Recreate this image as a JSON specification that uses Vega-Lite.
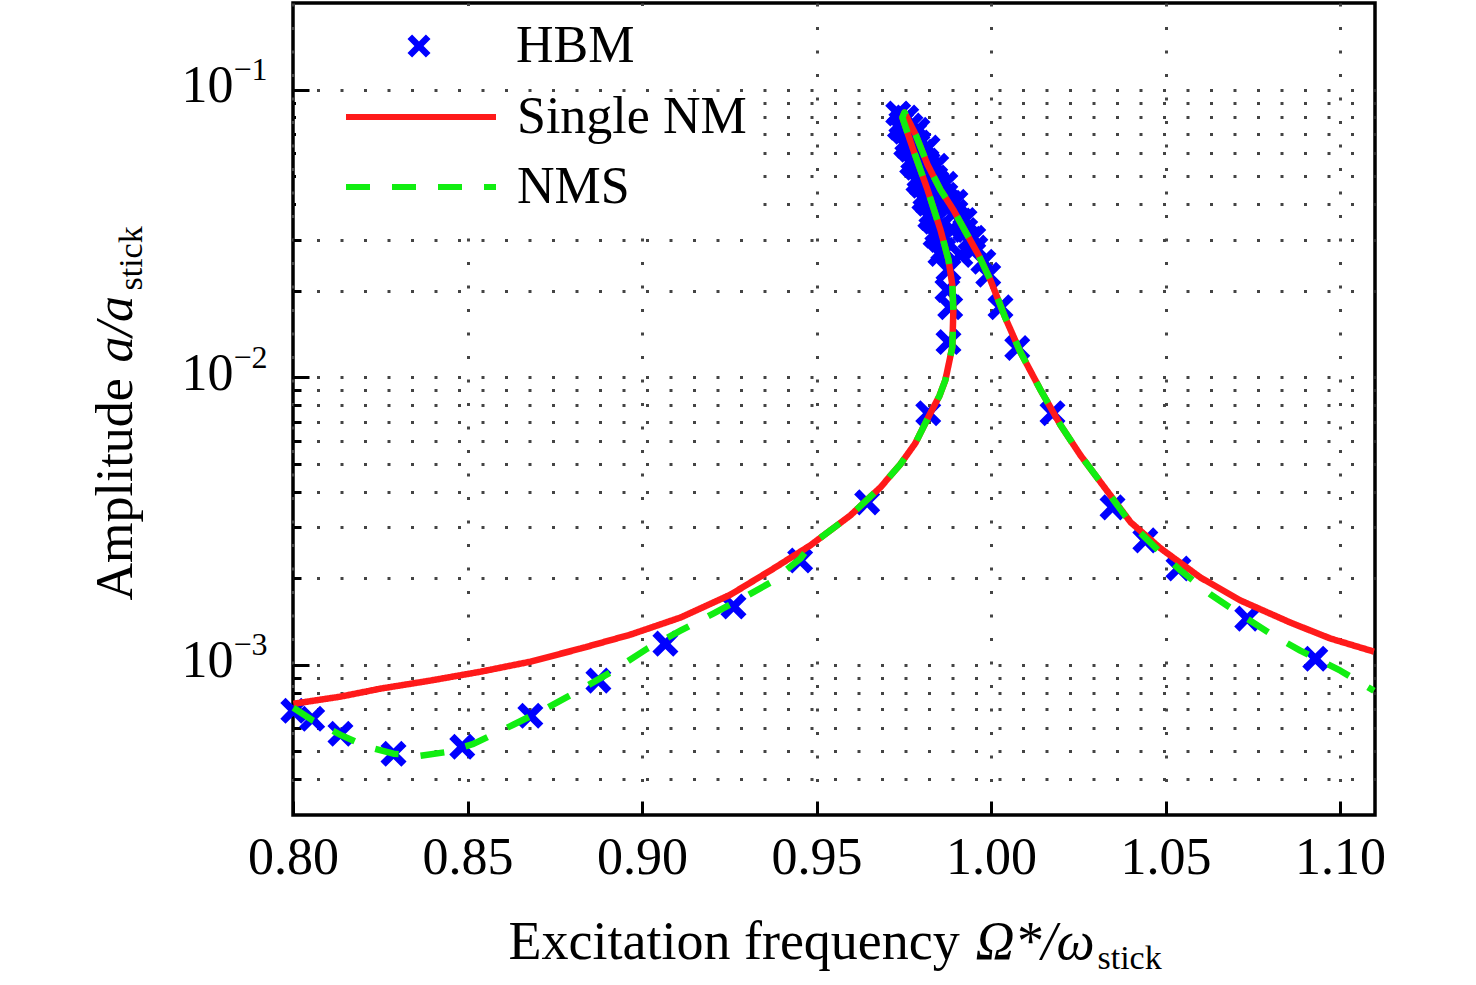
{
  "$schema": "https://vega.github.io/schema/vega-lite/v6.json",
  "width": 1082,
  "height": 812,
  "autosize": {"type": "none"},
  "padding": {"left": 293, "top": 3, "right": 101, "bottom": 170},
  "background": "white",
  "config": {
    "view": {"stroke": "black", "strokeWidth": 3.5},
    "font": "Liberation Serif",
    "axis": {
      "labelColor": "black", "titleColor": "black", "tickColor": "black",
      "labelFont": "Liberation Serif", "titleFont": "Liberation Serif",
      "titleFontWeight": "normal"
    }
  },
  "datasets": {
    "hbm": [
      {"s": "HBM", "f": 0.8001, "a": 0.000691},
      {"s": "HBM", "f": 0.8055, "a": 0.000648},
      {"s": "HBM", "f": 0.8136, "a": 0.000575},
      {"s": "HBM", "f": 0.8288, "a": 0.000490},
      {"s": "HBM", "f": 0.8485, "a": 0.000518},
      {"s": "HBM", "f": 0.8680, "a": 0.000664},
      {"s": "HBM", "f": 0.8875, "a": 0.000880},
      {"s": "HBM", "f": 0.9067, "a": 0.001183},
      {"s": "HBM", "f": 0.9262, "a": 0.001593},
      {"s": "HBM", "f": 0.9453, "a": 0.002304},
      {"s": "HBM", "f": 0.9645, "a": 0.003668},
      {"s": "HBM", "f": 0.9820, "a": 0.00749},
      {"s": "HBM", "f": 0.9878, "a": 0.01324},
      {"s": "HBM", "f": 0.9883, "a": 0.0175},
      {"s": "HBM", "f": 0.9875, "a": 0.0201},
      {"s": "HBM", "f": 0.9878, "a": 0.0236},
      {"s": "HBM", "f": 0.9863, "a": 0.0277},
      {"s": "HBM", "f": 0.9855, "a": 0.0300},
      {"s": "HBM", "f": 0.9846, "a": 0.0323},
      {"s": "HBM", "f": 0.9838, "a": 0.0347},
      {"s": "HBM", "f": 0.9829, "a": 0.0373},
      {"s": "HBM", "f": 0.9820, "a": 0.0401},
      {"s": "HBM", "f": 0.9812, "a": 0.0431},
      {"s": "HBM", "f": 0.9803, "a": 0.0463},
      {"s": "HBM", "f": 0.9795, "a": 0.0498},
      {"s": "HBM", "f": 0.9786, "a": 0.0535},
      {"s": "HBM", "f": 0.9777, "a": 0.0575},
      {"s": "HBM", "f": 0.9769, "a": 0.0618},
      {"s": "HBM", "f": 0.9760, "a": 0.0665},
      {"s": "HBM", "f": 0.9752, "a": 0.0714},
      {"s": "HBM", "f": 0.9743, "a": 0.0767},
      {"s": "HBM", "f": 0.9734, "a": 0.0825},
      {"s": "HBM", "f": 0.9739, "a": 0.0737},
      {"s": "HBM", "f": 0.9757, "a": 0.0638},
      {"s": "HBM", "f": 0.9774, "a": 0.0552},
      {"s": "HBM", "f": 0.9792, "a": 0.0478},
      {"s": "HBM", "f": 0.9809, "a": 0.0414},
      {"s": "HBM", "f": 0.9826, "a": 0.0358},
      {"s": "HBM", "f": 0.9841, "a": 0.0310},
      {"s": "HBM", "f": 0.9855, "a": 0.0268},
      {"s": "HBM", "f": 0.9777, "a": 0.0670},
      {"s": "HBM", "f": 0.9815, "a": 0.0526},
      {"s": "HBM", "f": 0.9852, "a": 0.0414},
      {"s": "HBM", "f": 0.9889, "a": 0.0325},
      {"s": "HBM", "f": 0.9757, "a": 0.0799},
      {"s": "HBM", "f": 0.9769, "a": 0.0749},
      {"s": "HBM", "f": 0.9780, "a": 0.0703},
      {"s": "HBM", "f": 0.9792, "a": 0.0654},
      {"s": "HBM", "f": 0.9803, "a": 0.0608},
      {"s": "HBM", "f": 0.9815, "a": 0.0566},
      {"s": "HBM", "f": 0.9826, "a": 0.0526},
      {"s": "HBM", "f": 0.9840, "a": 0.0494},
      {"s": "HBM", "f": 0.9855, "a": 0.0459},
      {"s": "HBM", "f": 0.9869, "a": 0.0431},
      {"s": "HBM", "f": 0.9883, "a": 0.0404},
      {"s": "HBM", "f": 0.9898, "a": 0.0376},
      {"s": "HBM", "f": 0.9912, "a": 0.0350},
      {"s": "HBM", "f": 0.9926, "a": 0.0325},
      {"s": "HBM", "f": 0.9941, "a": 0.0303},
      {"s": "HBM", "f": 0.9955, "a": 0.0282},
      {"s": "HBM", "f": 0.9789, "a": 0.0725},
      {"s": "HBM", "f": 0.9818, "a": 0.0628},
      {"s": "HBM", "f": 0.9843, "a": 0.0543},
      {"s": "HBM", "f": 0.9869, "a": 0.0470},
      {"s": "HBM", "f": 0.9898, "a": 0.0407},
      {"s": "HBM", "f": 0.9924, "a": 0.0352},
      {"s": "HBM", "f": 0.9949, "a": 0.0305},
      {"s": "HBM", "f": 0.9912, "a": 0.0266},
      {"s": "HBM", "f": 0.9978, "a": 0.0252},
      {"s": "HBM", "f": 0.9992, "a": 0.0227},
      {"s": "HBM", "f": 1.0027, "a": 0.0175},
      {"s": "HBM", "f": 1.0075, "a": 0.01262},
      {"s": "HBM", "f": 1.0176, "a": 0.00749},
      {"s": "HBM", "f": 1.0348, "a": 0.003524},
      {"s": "HBM", "f": 1.0442, "a": 0.002705},
      {"s": "HBM", "f": 1.0537, "a": 0.002160},
      {"s": "HBM", "f": 1.0734, "a": 0.001446},
      {"s": "HBM", "f": 1.0929, "a": 0.001049}
    ],
    "single": [
      {"s": "Single NM", "o": 1, "f": 0.8001, "a": 0.000731},
      {"s": "Single NM", "o": 2, "f": 0.8136, "a": 0.000774},
      {"s": "Single NM", "o": 3, "f": 0.8250, "a": 0.000825},
      {"s": "Single NM", "o": 4, "f": 0.8393, "a": 0.000880},
      {"s": "Single NM", "o": 5, "f": 0.8537, "a": 0.000945},
      {"s": "Single NM", "o": 6, "f": 0.8680, "a": 0.001024},
      {"s": "Single NM", "o": 7, "f": 0.8823, "a": 0.001137},
      {"s": "Single NM", "o": 8, "f": 0.8967, "a": 0.001272},
      {"s": "Single NM", "o": 9, "f": 0.9110, "a": 0.001458},
      {"s": "Single NM", "o": 10, "f": 0.9254, "a": 0.001753},
      {"s": "Single NM", "o": 11, "f": 0.9368, "a": 0.002126},
      {"s": "Single NM", "o": 12, "f": 0.9482, "a": 0.002598},
      {"s": "Single NM", "o": 13, "f": 0.9597, "a": 0.003305},
      {"s": "Single NM", "o": 14, "f": 0.9683, "a": 0.004136},
      {"s": "Single NM", "o": 15, "f": 0.9740, "a": 0.004975},
      {"s": "Single NM", "o": 16, "f": 0.9783, "a": 0.00589},
      {"s": "Single NM", "o": 17, "f": 0.9826, "a": 0.00749},
      {"s": "Single NM", "o": 18, "f": 0.9852, "a": 0.00860},
      {"s": "Single NM", "o": 19, "f": 0.9869, "a": 0.00976},
      {"s": "Single NM", "o": 20, "f": 0.9889, "a": 0.01272},
      {"s": "Single NM", "o": 21, "f": 0.9892, "a": 0.01712},
      {"s": "Single NM", "o": 22, "f": 0.9889, "a": 0.02092},
      {"s": "Single NM", "o": 23, "f": 0.9878, "a": 0.02557},
      {"s": "Single NM", "o": 24, "f": 0.9855, "a": 0.03253},
      {"s": "Single NM", "o": 25, "f": 0.9818, "a": 0.04483},
      {"s": "Single NM", "o": 26, "f": 0.9777, "a": 0.06177},
      {"s": "Single NM", "o": 27, "f": 0.9746, "a": 0.0799},
      {"s": "Single NM", "o": 28, "f": 0.9752, "a": 0.0832},
      {"s": "Single NM", "o": 29, "f": 0.9784, "a": 0.0697},
      {"s": "Single NM", "o": 30, "f": 0.9818, "a": 0.0548},
      {"s": "Single NM", "o": 31, "f": 0.9855, "a": 0.04483},
      {"s": "Single NM", "o": 32, "f": 0.9892, "a": 0.03818},
      {"s": "Single NM", "o": 33, "f": 0.9927, "a": 0.03201},
      {"s": "Single NM", "o": 34, "f": 0.9964, "a": 0.02661},
      {"s": "Single NM", "o": 35, "f": 0.9998, "a": 0.02178},
      {"s": "Single NM", "o": 36, "f": 1.0041, "a": 0.01605},
      {"s": "Single NM", "o": 37, "f": 1.0084, "a": 0.01222},
      {"s": "Single NM", "o": 38, "f": 1.0142, "a": 0.00901},
      {"s": "Single NM", "o": 39, "f": 1.0199, "a": 0.00681},
      {"s": "Single NM", "o": 40, "f": 1.0256, "a": 0.00535},
      {"s": "Single NM", "o": 41, "f": 1.0314, "a": 0.004306},
      {"s": "Single NM", "o": 42, "f": 1.0400, "a": 0.003125},
      {"s": "Single NM", "o": 43, "f": 1.0486, "a": 0.002536},
      {"s": "Single NM", "o": 44, "f": 1.0600, "a": 0.002009},
      {"s": "Single NM", "o": 45, "f": 1.0715, "a": 0.001671},
      {"s": "Single NM", "o": 46, "f": 1.0858, "a": 0.001400},
      {"s": "Single NM", "o": 47, "f": 1.0973, "a": 0.001232},
      {"s": "Single NM", "o": 48, "f": 1.1097, "a": 0.001110}
    ],
    "nms": [
      {"s": "NMS", "o": 1, "f": 0.8001, "a": 0.000708},
      {"s": "NMS", "o": 2, "f": 0.8058, "a": 0.000638},
      {"s": "NMS", "o": 3, "f": 0.8136, "a": 0.000570},
      {"s": "NMS", "o": 4, "f": 0.8213, "a": 0.000518},
      {"s": "NMS", "o": 5, "f": 0.8288, "a": 0.000490},
      {"s": "NMS", "o": 6, "f": 0.8365, "a": 0.000482},
      {"s": "NMS", "o": 7, "f": 0.8442, "a": 0.000497},
      {"s": "NMS", "o": 8, "f": 0.8517, "a": 0.000530},
      {"s": "NMS", "o": 9, "f": 0.8631, "a": 0.000618},
      {"s": "NMS", "o": 10, "f": 0.8729, "a": 0.000708},
      {"s": "NMS", "o": 11, "f": 0.8823, "a": 0.000818},
      {"s": "NMS", "o": 12, "f": 0.8918, "a": 0.000953},
      {"s": "NMS", "o": 13, "f": 0.9015, "a": 0.001137},
      {"s": "NMS", "o": 14, "f": 0.9110, "a": 0.001313},
      {"s": "NMS", "o": 15, "f": 0.9204, "a": 0.001506},
      {"s": "NMS", "o": 16, "f": 0.9302, "a": 0.001739},
      {"s": "NMS", "o": 17, "f": 0.9368, "a": 0.001930},
      {"s": "NMS", "o": 18, "f": 0.9454, "a": 0.002341},
      {"s": "NMS", "o": 19, "f": 0.9482, "a": 0.002598},
      {"s": "NMS", "o": 20, "f": 0.9597, "a": 0.003305},
      {"s": "NMS", "o": 21, "f": 0.9683, "a": 0.004136},
      {"s": "NMS", "o": 22, "f": 0.9740, "a": 0.004975},
      {"s": "NMS", "o": 23, "f": 0.9783, "a": 0.00589},
      {"s": "NMS", "o": 24, "f": 0.9826, "a": 0.00749},
      {"s": "NMS", "o": 25, "f": 0.9852, "a": 0.00860},
      {"s": "NMS", "o": 26, "f": 0.9869, "a": 0.00976},
      {"s": "NMS", "o": 27, "f": 0.9889, "a": 0.01272},
      {"s": "NMS", "o": 28, "f": 0.9892, "a": 0.01712},
      {"s": "NMS", "o": 29, "f": 0.9889, "a": 0.02092},
      {"s": "NMS", "o": 30, "f": 0.9878, "a": 0.02557},
      {"s": "NMS", "o": 31, "f": 0.9855, "a": 0.03253},
      {"s": "NMS", "o": 32, "f": 0.9818, "a": 0.04483},
      {"s": "NMS", "o": 33, "f": 0.9777, "a": 0.06177},
      {"s": "NMS", "o": 34, "f": 0.9746, "a": 0.0799},
      {"s": "NMS", "o": 35, "f": 0.9752, "a": 0.0832},
      {"s": "NMS", "o": 36, "f": 0.9784, "a": 0.0697},
      {"s": "NMS", "o": 37, "f": 0.9818, "a": 0.0548},
      {"s": "NMS", "o": 38, "f": 0.9855, "a": 0.04483},
      {"s": "NMS", "o": 39, "f": 0.9892, "a": 0.03818},
      {"s": "NMS", "o": 40, "f": 0.9927, "a": 0.03201},
      {"s": "NMS", "o": 41, "f": 0.9964, "a": 0.02661},
      {"s": "NMS", "o": 42, "f": 0.9998, "a": 0.02178},
      {"s": "NMS", "o": 43, "f": 1.0041, "a": 0.01605},
      {"s": "NMS", "o": 44, "f": 1.0084, "a": 0.01222},
      {"s": "NMS", "o": 45, "f": 1.0142, "a": 0.00901},
      {"s": "NMS", "o": 46, "f": 1.0199, "a": 0.00681},
      {"s": "NMS", "o": 47, "f": 1.0256, "a": 0.00535},
      {"s": "NMS", "o": 48, "f": 1.0314, "a": 0.004306},
      {"s": "NMS", "o": 49, "f": 1.0400, "a": 0.003099},
      {"s": "NMS", "o": 50, "f": 1.0485, "a": 0.002456},
      {"s": "NMS", "o": 51, "f": 1.0543, "a": 0.002126},
      {"s": "NMS", "o": 52, "f": 1.0629, "a": 0.001753},
      {"s": "NMS", "o": 53, "f": 1.0715, "a": 0.001493},
      {"s": "NMS", "o": 54, "f": 1.0800, "a": 0.001282},
      {"s": "NMS", "o": 55, "f": 1.0886, "a": 0.001119},
      {"s": "NMS", "o": 56, "f": 1.1001, "a": 0.000953},
      {"s": "NMS", "o": 57, "f": 1.1097, "a": 0.000811}
    ]
  },
  "resolve": {"axis": {"x": "independent", "y": "independent"}},
  "layer": [
    {
      "data": {"name": "hbm"},
      "mark": {"type": "point", "opacity": 0},
      "encoding": {
        "x": {"field": "f", "type": "quantitative", "scale": {"domain": [0.8, 1.11], "nice": false, "zero": false}, "axis": null},
        "y": {
          "field": "a", "type": "quantitative",
          "scale": {"type": "log", "domain": [0.0003, 0.2], "nice": false},
          "axis": {
            "orient": "left",
            "values": [0.0004, 0.0005, 0.0006, 0.0007, 0.0008, 0.0009, 0.001, 0.002, 0.003, 0.004, 0.005, 0.006, 0.007, 0.008, 0.009, 0.01, 0.02, 0.03, 0.04, 0.05, 0.06, 0.07, 0.08, 0.09, 0.1],
            "labels": false, "domain": false,
            "ticks": true, "tickSize": -8, "tickWidth": 3,
            "grid": true, "gridColor": "#444444", "gridWidth": 3, "gridDash": [3, 20.5],
            "title": null
          }
        }
      }
    },
    {
      "data": {"name": "hbm"},
      "mark": {"type": "point", "filled": true, "size": 680, "opacity": 1, "strokeWidth": 0, "color": "#0000ff"},
      "encoding": {
        "x": {
          "field": "f", "type": "quantitative",
          "scale": {"domain": [0.8, 1.11], "nice": false, "zero": false},
          "axis": {
            "orient": "bottom",
            "values": [0.8, 0.85, 0.9, 0.95, 1.0, 1.05, 1.1],
            "format": ".2f", "labelFontSize": 52, "labelPadding": 17, "labelFlush": false,
            "ticks": false, "domain": false,
            "grid": true, "gridColor": "#444444", "gridWidth": 3, "gridDash": [3, 20.5],
            "title": "Excitation frequency", "titleFontSize": 54,
            "titleX": 215, "titleY": 143, "titleAlign": "left", "titleBaseline": "alphabetic", "titleAngle": 0
          }
        },
        "y": {
          "field": "a", "type": "quantitative",
          "scale": {"type": "log", "domain": [0.0003, 0.2], "nice": false},
          "axis": {
            "orient": "left",
            "values": [0.001, 0.01, 0.1],
            "labelExpr": "'10'", "labelFontSize": 52, "labelPadding": 60, "labelOffset": -4,
            "ticks": false, "domain": false, "grid": false,
            "title": "Amplitude", "titleFontSize": 52, "titleAngle": 270,
            "titleX": -162, "titleY": 597, "titleAlign": "left", "titleBaseline": "alphabetic"
          }
        },
        "shape": {
          "field": "s", "type": "nominal",
          "scale": {"domain": ["HBM"], "range": ["M-1,-0.6L-0.6,-1L0,-0.4L0.6,-1L1,-0.6L0.4,0L1,0.6L0.6,1L0,0.4L-0.6,1L-1,0.6L-0.4,0Z"]},
          "legend": {
            "title": null, "orient": "none", "legendX": 3, "legendY": 3,
            "padding": 14, "fillColor": "white",
            "symbolSize": 529, "symbolStrokeWidth": 0, "symbolOffset": 83,
            "symbolFillColor": "#0000ff", "symbolOpacity": 1,
            "labelOffset": 71, "labelFontSize": 52, "labelFont": "Liberation Serif",
            "labelColor": "black", "labelLimit": 600
          }
        }
      }
    },
    {
      "data": {"name": "single"},
      "mark": {"type": "line", "strokeWidth": 6.5, "strokeCap": "butt", "strokeJoin": "round"},
      "encoding": {
        "x": {
          "field": "f", "type": "quantitative",
          "scale": {"domain": [0.8, 1.11], "nice": false, "zero": false},
          "axis": {
            "orient": "bottom",
            "values": [0.8, 0.85, 0.9, 0.95, 1.0, 1.05, 1.1],
            "labels": false, "domain": false, "grid": false,
            "ticks": true, "tickSize": -14, "tickWidth": 3,
            "title": "Ω*/ω", "titleFontSize": 54, "titleFontStyle": "italic",
            "titleX": 682, "titleY": 143, "titleAlign": "left", "titleBaseline": "alphabetic", "titleAngle": 0
          }
        },
        "y": {
          "field": "a", "type": "quantitative",
          "scale": {"type": "log", "domain": [0.0003, 0.2], "nice": false},
          "axis": {
            "orient": "left",
            "values": [0.001, 0.01, 0.1],
            "labelExpr": "datum.value < 0.005 ? '−3' : (datum.value < 0.05 ? '−2' : '−1')",
            "labelFontSize": 32, "labelAlign": "left", "labelPadding": 60, "labelOffset": -20,
            "ticks": false, "domain": false, "grid": false,
            "title": "a/a", "titleFontSize": 52, "titleFontStyle": "italic", "titleAngle": 270,
            "titleX": -162, "titleY": 359, "titleAlign": "left", "titleBaseline": "alphabetic"
          }
        },
        "color": {
          "field": "s", "type": "nominal",
          "scale": {"domain": ["Single NM", "NMS"], "range": ["#ff1a1a", "#11ee11"]},
          "legend": {
            "title": null, "orient": "none", "legendX": 3, "legendY": 94,
            "padding": 8, "fillColor": "white",
            "symbolSize": 22500, "symbolOffset": 39, "symbolStrokeWidth": 6,
            "clipHeight": 24,
            "labelOffset": 18, "labelFontSize": 52, "labelFont": "Liberation Serif",
            "labelColor": "black", "labelLimit": 600, "rowPadding": 18
          }
        },
        "strokeDash": {
          "field": "s", "type": "nominal",
          "scale": {"domain": ["Single NM", "NMS"], "range": [[1, 0], [24, 22]]}
        },
        "order": {"field": "o", "type": "quantitative"}
      }
    },
    {
      "data": {"name": "nms"},
      "mark": {"type": "line", "strokeWidth": 6.5, "strokeCap": "butt", "strokeJoin": "round"},
      "encoding": {
        "x": {
          "field": "f", "type": "quantitative",
          "scale": {"domain": [0.8, 1.11], "nice": false, "zero": false},
          "axis": {
            "orient": "bottom",
            "labels": false, "domain": false, "grid": false, "ticks": false,
            "title": "stick", "titleFontSize": 34,
            "titleX": 804, "titleY": 153, "titleAlign": "left", "titleBaseline": "alphabetic", "titleAngle": 0
          }
        },
        "y": {
          "field": "a", "type": "quantitative",
          "scale": {"type": "log", "domain": [0.0003, 0.2], "nice": false},
          "axis": {
            "orient": "left",
            "values": [0.001, 0.01, 0.1],
            "labels": false, "domain": false, "grid": false,
            "ticks": true, "tickSize": -16, "tickWidth": 3,
            "title": "stick", "titleFontSize": 34, "titleAngle": 270,
            "titleX": -152, "titleY": 287, "titleAlign": "left", "titleBaseline": "alphabetic"
          }
        },
        "color": {"field": "s", "type": "nominal", "scale": {"domain": ["Single NM", "NMS"], "range": ["#ff1a1a", "#11ee11"]}},
        "strokeDash": {"field": "s", "type": "nominal", "scale": {"domain": ["Single NM", "NMS"], "range": [[1, 0], [24, 22]]}},
        "order": {"field": "o", "type": "quantitative"}
      }
    }
  ]
}
